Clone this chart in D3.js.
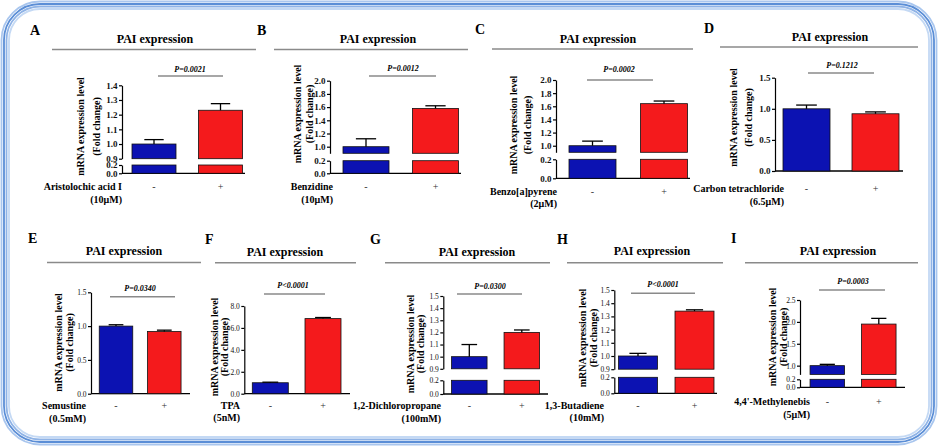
<!DOCTYPE html>
<html><head><meta charset="utf-8">
<script src="https://cdn.jsdelivr.net/npm/d3@7"></script>
<style>
body{margin:0;background:#fff}
svg{display:block}
text{font-family:"Liberation Serif","Times New Roman",serif}
</style></head>
<body><svg id="c" width="938" height="446"></svg>
<script>
// ---------------- data ----------------
const panelLetters = ["A","B","C","D","E","F","G","H","I"];
const chartTitle = "PAI expression";
const compounds = ["Aristolochic acid I","Benzidine","Benzo[a]pyrene","Carbon tetrachloride","Semustine","TPA","1,2-Dichloropropane","1,3-Butadiene","4,4'-Methylenebis"];
const doses = ["(10μM)","(10μM)","(2μM)","(6.5μM)","(0.5mM)","(5nM)","(100mM)","(10mM)","(5μM)"];
const pValues = ["P=0.0021","P=0.0012","P=0.0002","P=0.1212","P=0.0340","P<0.0001","P=0.0300","P<0.0001","P=0.0003"];
const groups = ["-","+"];
const controlMean = [1.00,1.00,1.00,1.00,1.00,1.00,1.00,1.00,1.00];
const controlSEM  = [0.03,0.12,0.07,0.06,0.02,0.05,0.10,0.02,0.03];
const treatedMean = [1.23,1.58,1.64,0.92,0.92,6.85,1.20,1.34,1.95];
const treatedSEM  = [0.045,0.04,0.04,0.03,0.02,0.10,0.02,0.01,0.13];
const upperDomain = [[0.9,1.4],[0.9,2.0],[0.9,2.0],[0,1.5],[0,1.5],[0,8],[0.9,1.5],[0.9,1.5],[0.8,2.5]];
const upperTicks = [
  [0.9,1.0,1.1,1.2,1.3,1.4],
  [1.0,1.2,1.4,1.6,1.8,2.0],
  [1.0,1.2,1.4,1.6,1.8,2.0],
  [0,0.5,1.0,1.5],
  [0,0.5,1.0,1.5],
  [0,2,4,6,8],
  [0.9,1.0,1.1,1.2,1.3,1.4,1.5],
  [0.9,1.0,1.1,1.2,1.3,1.4,1.5],
  [1.0,1.5,2.0,2.5]
];
const lowerTicks = [[0,0.2],[0,0.2],[0,0.2],[],[],[],[0,0.2],[0,0.2],[0,0.2]];
const yTitle = ["mRNA expression level","(Fold change)"];

// ---------------- layout (pixels) ----------------
const layout = [
 {letter:[30,35], title:[155,43], ul:[52,256,49.5], p:[190,72], pl:[158,223,76], axisX:122, baseY:173.3, endX:245, uTop:85.3, uBot:158.7, lTop:165, cx:[154,220.5], bw:44, xl:[122,190,203], yt:[80.7,96,126.5]},
 {letter:[257,35], title:[378,43], ul:[274,468,49.5], p:[403,71], pl:[369,436,76], axisX:330, baseY:173.3, endX:461, uTop:80.7, uBot:153.3, lTop:160.7, cx:[366,435.5], bw:46, xl:[333,190,203], yt:[297,309,114]},
 {letter:[475,34], title:[598,43], ul:[492,693,49], p:[619,72], pl:[587,653,80], axisX:556, baseY:178.3, endX:690, uTop:80, uBot:152.3, lTop:159.3, cx:[592.5,664], bw:47, xl:[557,195,207], yt:[513,527,125]},
 {letter:[704,33], title:[830,41], ul:[720,918,47], p:[842,68], pl:[808,874,73], axisX:775, baseY:171, endX:903, uTop:77.7, uBot:171, lTop:null, cx:[806.5,875.5], bw:47, xl:[784,191.5,205], yt:[733,748,117.5]},
 {letter:[28,243], title:[124,255], ul:[47,201,262.5], p:[140,291], pl:[110,175,296.7], axisX:91, baseY:393.7, endX:190, uTop:292.3, uBot:393.7, lTop:null, cx:[116,164.3], bw:33.5, xl:[86,409,421.5], yt:[58,69.5,342.5]},
 {letter:[205,244], title:[285,256], ul:[215,356,262.7], p:[293,288], pl:[264,325,294], axisX:244.3, baseY:393.7, endX:350, uTop:306, uBot:393.7, lTop:null, cx:[270.3,323], bw:36, xl:[240,409,420.5], yt:[214,224.5,347]},
 {letter:[370,244], title:[477,256], ul:[385,550,262.7], p:[490,289], pl:[457,522,294], axisX:443.3, baseY:394, endX:548, uTop:296, uBot:368.8, lTop:380.3, cx:[469.3,521.8], bw:35.5, xl:[441,409,421.5], yt:[410,420.5,344]},
 {letter:[557,244], title:[652,255], ul:[567,723,262.7], p:[663,287], pl:[631,695,293.3], axisX:614.3, baseY:393.3, endX:717, uTop:290, uBot:369.2, lTop:377.3, cx:[638,694.5], bw:39, xl:[604,409,420.5], yt:[582,593,338]},
 {letter:[731,243], title:[838,255], ul:[745,918,262.7], p:[853,284], pl:[819,885,290], axisX:800, baseY:387.3, endX:905, uTop:300, uBot:374.4, lTop:379.3, cx:[827.3,878.8], bw:34.5, xl:[810,405,417.5], yt:[772.7,783.3,337]}
];
const barFill = ["#0c12b2","#f41a1c"];
const serif = "'Liberation Serif','Times New Roman',serif";

const svg = d3.select("#c");
svg.append("rect").attr("width",938).attr("height",446).attr("fill","#fff");

// frame
const frameLines = [
  {inset:1.5, color:"#a9c6ee"},
  {inset:4, color:"#5b8ed6"},
  {inset:6.5, color:"#8fb3e6"},
  {inset:9, color:"#c4d9f4"}
];
frameLines.forEach(f=>{
  svg.append("rect").attr("x",f.inset).attr("y",f.inset)
    .attr("width",938-2*f.inset).attr("height",446-2*f.inset)
    .attr("rx",40-f.inset).attr("ry",40-f.inset)
    .attr("fill","none").attr("stroke",f.color).attr("stroke-width",1.8);
});

const fmt = d3.format(".1f");

panelLetters.forEach((letter,i)=>{
  const L = layout[i];
  const g = svg.append("g");
  const small = i>=4;

  g.append("text").attr("x",L.letter[0]).attr("y",L.letter[1]).text(letter)
    .attr("font-size",14).attr("font-weight","bold");
  g.append("text").attr("x",L.title[0]).attr("y",L.title[1]).text(chartTitle)
    .attr("text-anchor","middle").attr("font-size",12).attr("font-weight","bold");
  g.append("line").attr("x1",L.ul[0]).attr("x2",L.ul[1]).attr("y1",L.ul[2]).attr("y2",L.ul[2])
    .attr("stroke","#8a8a8a").attr("stroke-width",1.5);

  g.append("text").attr("x",L.p[0]).attr("y",L.p[1]).text(pValues[i])
    .attr("text-anchor","middle").attr("font-size",8).attr("font-weight","bold").attr("font-style","italic");
  g.append("line").attr("x1",L.pl[0]).attr("x2",L.pl[1]).attr("y1",L.pl[2]).attr("y2",L.pl[2])
    .attr("stroke","#8a8a8a").attr("stroke-width",1.5);

  const broken = lowerTicks[i].length>0;
  const yU = d3.scaleLinear().domain(upperDomain[i]).range([L.uBot,L.uTop]);
  const yL = broken ? d3.scaleLinear().domain([0,0.2]).range([L.baseY,L.lTop]) : null;
  const x = d3.scalePoint().domain(groups).range(L.cx);

  const styleAxis = sel => {
    sel.attr("font-family",serif).attr("font-size",small?7.5:9)
       .attr("font-weight",small?"normal":"bold");
    sel.selectAll("path,line").attr("stroke","#000").attr("stroke-width",1.2);
    sel.selectAll("text").attr("fill","#111");
  };
  g.append("g").attr("transform",`translate(${L.axisX},0)`)
    .call(d3.axisLeft(yU).tickValues(upperTicks[i]).tickSize(3).tickSizeOuter(0).tickPadding(1.5).tickFormat(fmt))
    .call(styleAxis);
  if(broken){
    g.append("g").attr("transform",`translate(${L.axisX},0)`)
      .call(d3.axisLeft(yL).tickValues(lowerTicks[i]).tickSize(3).tickSizeOuter(0).tickPadding(1.5).tickFormat(fmt))
      .call(styleAxis);
  }
  g.append("line").attr("x1",L.axisX).attr("x2",L.endX).attr("y1",L.baseY).attr("y2",L.baseY)
    .attr("stroke","#000").attr("stroke-width",1.3);

  const means = [controlMean[i],treatedMean[i]];
  const sems = [controlSEM[i],treatedSEM[i]];
  groups.forEach((grp,j)=>{
    const xc = x(grp), x0 = xc-L.bw/2;
    const yTop = yU(means[j]);
    if(broken){
      g.append("rect").attr("x",x0).attr("width",L.bw).attr("y",yTop).attr("height",yU(upperDomain[i][0])-yTop)
        .attr("fill",barFill[j]).attr("stroke","#111").attr("stroke-width",0.8);
      g.append("rect").attr("x",x0).attr("width",L.bw).attr("y",yL(0.2)).attr("height",yL(0)-yL(0.2))
        .attr("fill",barFill[j]).attr("stroke","#111").attr("stroke-width",0.8);
    } else {
      g.append("rect").attr("x",x0).attr("width",L.bw).attr("y",yTop).attr("height",yU(0)-yTop)
        .attr("fill",barFill[j]).attr("stroke","#111").attr("stroke-width",0.8);
    }
    const yE = yU(means[j]+sems[j]);
    g.append("line").attr("x1",xc).attr("x2",xc).attr("y1",yTop).attr("y2",yE).attr("stroke","#000").attr("stroke-width",1.3);
    g.append("line").attr("x1",xc-L.bw*0.22).attr("x2",xc+L.bw*0.22).attr("y1",yE).attr("y2",yE).attr("stroke","#000").attr("stroke-width",1.3);
    g.append("text").attr("x",xc).attr("y",L.xl[1]).text(grp).attr("text-anchor","middle").attr("font-size",10).attr("fill","#333");
  });

  g.append("text").attr("x",L.xl[0]).attr("y",L.xl[1]).text(compounds[i])
    .attr("text-anchor","end").attr("font-size",10).attr("font-weight","bold");
  g.append("text").attr("x",L.xl[0]).attr("y",L.xl[2]).text(doses[i])
    .attr("text-anchor","end").attr("font-size",10).attr("font-weight","bold");

  yTitle.forEach((t,k)=>{
    g.append("text").attr("transform",`translate(${L.yt[k]},${L.yt[2]}) rotate(-90)`)
      .attr("text-anchor","middle").attr("dominant-baseline","central")
      .attr("font-size",10).attr("font-weight","bold").text(t);
  });
});
</script></body></html>
